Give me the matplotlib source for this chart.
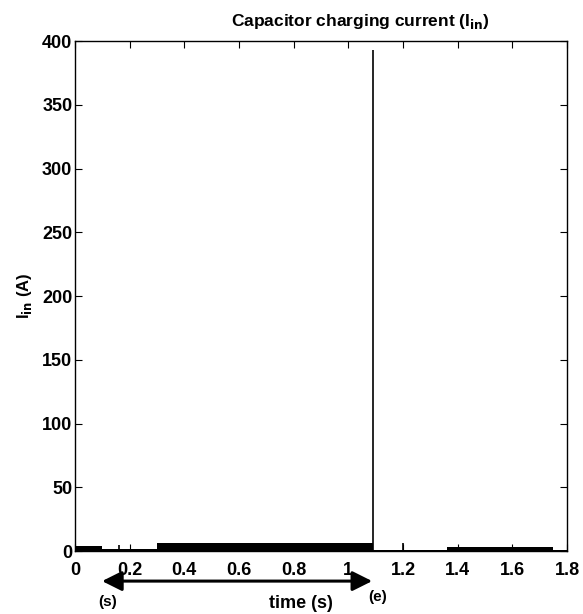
import matplotlib
matplotlib.use("Agg")
import matplotlib.pyplot as plt
import numpy as np

# segment edges (s) and band level (A) of the fast-switching current
seg_t = [0.0, 0.10, 0.30, 1.09, 1.36, 1.75, 1.80]
seg_hi = [4.0, 1.5, 6.0, 0.8, 3.5, 0.8]
# isolated spikes
spike_t = [0.16, 1.09, 1.20]
spike_h = [5.0, 393.0, 6.0]

xticks = [0, 0.2, 0.4, 0.6, 0.8, 1, 1.2, 1.4, 1.6, 1.8]
xticklabels = ["0", "0.2", "0.4", "0.6", "0.8", "1", "1.2", "1.4", "1.6", "1.8"]
yticks = [0, 50, 100, 150, 200, 250, 300, 350, 400]

plt.rcParams["font.family"] = ["Liberation Sans", "DejaVu Sans"]
plt.rcParams["font.weight"] = "bold"

fig = plt.figure(figsize=(5.83, 6.14), dpi=100)
ax = fig.add_axes([0.1287, 0.1026, 0.8439, 0.8306])

edges = np.array(seg_t)
hi = np.append(seg_hi, seg_hi[-1])
ax.fill_between(edges, 0, hi, step="post", color="black", linewidth=0)
ax.vlines(spike_t, 0, spike_h, color="black", linewidth=1.2)

ax.set_xlim(0, 1.8)
ax.set_ylim(0, 400)
ax.set_xticks(xticks)
ax.set_xticklabels(xticklabels)
ax.set_yticks(yticks)
ax.tick_params(direction="in", top=True, right=True, labelsize=13, length=5)
ax.tick_params(axis="x", pad=8)
ax.tick_params(axis="y", pad=2)
for s in ax.spines.values():
    s.set_linewidth(1.0)

ax.set_title(r"Capacitor charging current (I$_{\mathbf{in}}$)", fontsize=12.5,
             fontweight="bold", x=0.581, pad=11)
ax.set_ylabel(r"I$_{\mathbf{in}}$ (A)", fontsize=12, fontweight="bold", labelpad=6)

# time arrow below the axis
ax.annotate("", xy=(0.099, -0.059), xytext=(1.087, -0.059),
            xycoords=("data", "axes fraction"),
            arrowprops=dict(arrowstyle="<|-|>", color="black", lw=2.2,
                            mutation_scale=30, shrinkA=0, shrinkB=0),
            annotation_clip=False)
ax.text(0.12, -0.100, "(s)", transform=ax.get_xaxis_transform(),
        fontsize=11, fontweight="bold", ha="center", va="center")
ax.text(1.108, -0.090, "(e)", transform=ax.get_xaxis_transform(),
        fontsize=11, fontweight="bold", ha="center", va="center")
ax.text(0.827, -0.102, "time (s)", transform=ax.get_xaxis_transform(),
        fontsize=13, fontweight="bold", ha="center", va="center")

fig.savefig("out.png", dpi=100)
